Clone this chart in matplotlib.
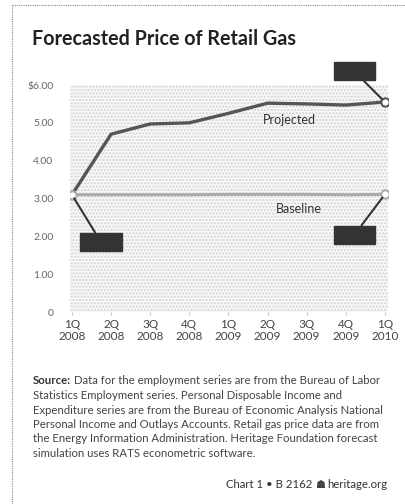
import matplotlib
matplotlib.use("Agg")
from matplotlib import pyplot as plt
from matplotlib.lines import Line2D

plt.rcParams['font.family'] = ['Lato', 'DejaVu Sans']

# data
quarters = ["1Q\n2008", "2Q\n2008", "3Q\n2008", "4Q\n2008", "1Q\n2009",
            "2Q\n2009", "3Q\n2009", "4Q\n2009", "1Q\n2010"]
projected = [3.10, 4.70, 4.97, 5.00, 5.25, 5.52, 5.50, 5.47, 5.55]
baseline = [3.10, 3.10, 3.10, 3.10, 3.11, 3.11, 3.11, 3.10, 3.11]
y_ticks = [0, 1, 2, 3, 4, 5, 6]
y_labels = ["0", "1.00", "2.00", "3.00", "4.00", "5.00", "$6.00"]

W, H = 405, 504
fig = plt.figure(figsize=(W / 100, H / 100), dpi=100)

def fx(px):
    return px / W

def fy(py):
    return 1 - py / H

# outer dotted border (left and top)
fig.add_artist(Line2D([fx(12), fx(12)], [0, fy(5)], color='#888888', lw=0.8, ls=(0, (1, 1))))
fig.add_artist(Line2D([fx(12), 1], [fy(5), fy(5)], color='#888888', lw=0.8, ls=(0, (1, 1))))

fig.text(fx(32), fy(45), "Forecasted Price of Retail Gas", fontsize=14.2, fontweight='bold',
         color='#222222', va='baseline', ha='left')

ax = fig.add_axes([fx(70), fy(312), fx(388 - 70), (312 - 85) / H])
ax.set_facecolor('#f8f8f8')
ax.patch.set_hatch('.....')
ax.patch.set_edgecolor('#d2d2d2')
ax.patch.set_linewidth(0)
for s in ax.spines.values():
    s.set_visible(False)

x = list(range(len(quarters)))
ax.plot(x, baseline, color='#aaaaaa', lw=2.2, zorder=3)
ax.plot(x, projected, color='#555555', lw=2.4, zorder=4)
# open circles at the ends
ax.plot([x[0], x[-1]], [baseline[0], baseline[-1]], 'o', ms=6, mfc='white',
        mec='#aaaaaa', mew=1.5, zorder=5)
ax.plot([x[-1]], [projected[-1]], 'o', ms=6, mfc='white', mec='#555555', mew=1.5, zorder=5)

ax.set_xlim(-0.05, 8.08)
ax.set_ylim(0, 6)
ax.set_yticks(y_ticks)
ax.set_yticklabels(y_labels)
ax.set_xticks(x)
ax.set_xticklabels(quarters, linespacing=1.1)
ax.tick_params(axis='y', length=0, pad=12, labelsize=7.5, labelcolor='#666666')
ax.tick_params(axis='x', length=2, width=0.6, color='#bbbbbb', pad=3,
               labelsize=8.5, labelcolor='#444444')

ax.text(5.55, 5.08, "Projected", fontsize=9, color='#333333', ha='center', va='center')
ax.text(5.8, 2.72, "Baseline", fontsize=9, color='#333333', ha='center', va='center')

# redacted value callouts (dark boxes with leader lines)
box = dict(boxstyle='square,pad=0.3', fc='#333333', ec='#333333')
lead = dict(arrowstyle='-', color='#333333', lw=1.5, shrinkA=0, shrinkB=3)
blank = "\u2007" * 5
ax.annotate(blank, xy=(x[0], baseline[0]), xytext=(0.74, 1.85), fontsize=8.5,
            bbox=box, arrowprops=lead, ha='center', va='center', zorder=6)
ax.annotate(blank, xy=(x[-1], baseline[-1]), xytext=(7.22, 2.04), fontsize=8.5,
            bbox=box, arrowprops=lead, ha='center', va='center', zorder=6)
ax.annotate(blank, xy=(x[-1], projected[-1]), xytext=(7.22, 6.36), fontsize=8.5,
            bbox=box, arrowprops=lead, ha='center', va='center', zorder=6,
            annotation_clip=False)

source_lines = [
    "Data for the employment series are from the Bureau of Labor",
    "Statistics Employment series. Personal Disposable Income and",
    "Expenditure series are from the Bureau of Economic Analysis National",
    "Personal Income and Outlays Accounts. Retail gas price data are from",
    "the Energy Information Administration. Heritage Foundation forecast",
    "simulation uses RATS econometric software.",
]
y0 = 381
fs = 8.2
for i, line in enumerate(source_lines):
    if i == 0:
        t = fig.text(fx(33), fy(y0), "Source:", fontsize=fs, fontweight='bold',
                     color='#333333', va='center', ha='left')
        fig.canvas.draw()
        bb = t.get_window_extent()
        fig.text(bb.x1 / W + fx(3), fy(y0), line, fontsize=fs, color='#444444',
                 va='center', ha='left')
    else:
        fig.text(fx(33), fy(y0 + i * 14.5), line, fontsize=fs, color='#444444',
                 va='center', ha='left')

fig.text(fx(387), fy(485), "heritage.org", fontsize=fs, color='#333333', ha='right', va='center')
fig.text(fx(312), fy(485), "Chart 1 \u2022 B 2162", fontsize=fs, color='#333333',
         ha='right', va='center')
fig.text(fx(320), fy(485), "\u2617", fontsize=8, color='#444444', ha='center', va='center',
         family=['DejaVu Sans'])

fig.savefig("out.png", dpi=100)
